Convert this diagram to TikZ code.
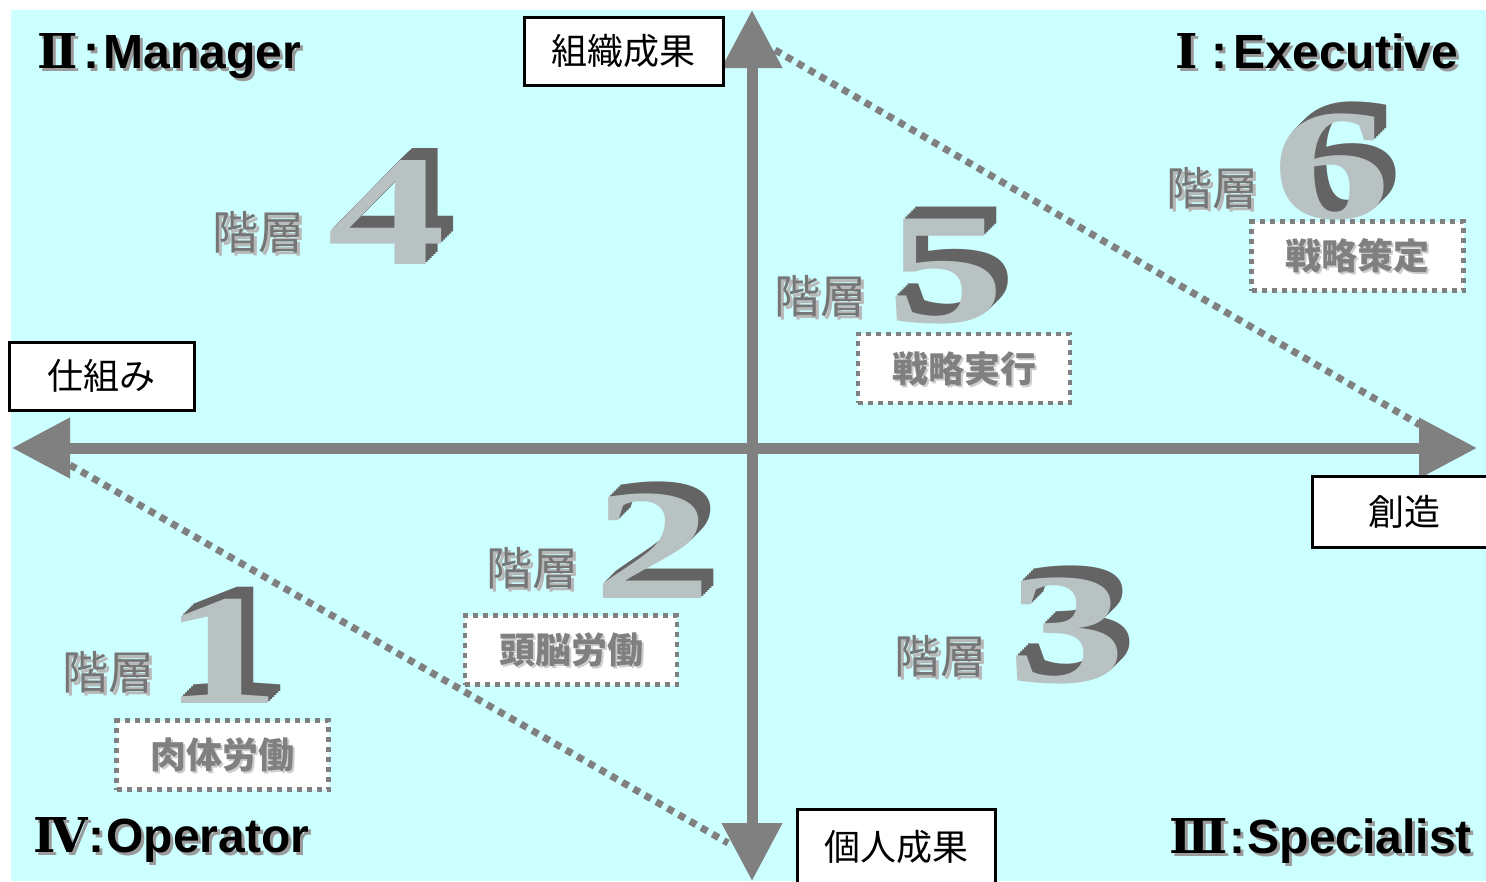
\documentclass[tikz,border=0pt]{standalone}
\usepackage{fontspec}
\setmainfont{Liberation Sans}
\newfontfamily\jp{Noto Sans CJK JP}
\newfontfamily\digf{Liberation Serif}
\newfontfamily\romf{DejaVu Serif}
\usetikzlibrary{arrows.meta}
\definecolor{bgc}{HTML}{CCFFFF}
\definecolor{axc}{HTML}{808080}
\definecolor{dkg}{HTML}{767676}
\definecolor{facec}{HTML}{B9C2C2}
\definecolor{shd}{HTML}{B8B8B8}
\definecolor{qshd}{HTML}{9A9A9A}
\newcommand{\digitart}[4]{%
  \foreach \k in {12,10,...,2}{%
    \node[digstyle, text=dkg!85!black] (#1s\k) at ([shift={(\k,-\k)}]#2,#3) {\scalebox{1.5}[1]{#4}};}
  \node[digstyle, text=facec] (#1) at (#2,#3) {\scalebox{1.5}[1]{#4}};}
\newcommand{\rn}[1]{{\romf\bfseries #1}}
\begin{document}
\begin{tikzpicture}[x=1pt,y=-1pt,
  axisline/.style={line width=11pt, draw=axc,
    {Triangle[length=58pt,width=58pt]}-{Triangle[length=58pt,width=58pt]}},
  dotline/.style={line width=7pt, draw=axc, dash pattern=on 7pt off 6pt},
  labelbox/.style={draw=black, line width=3pt, fill=white, inner sep=0pt,
    font=\jp\fontsize{36}{36}\selectfont},
  taskbox/.style={draw=axc, line width=4.5pt, dash pattern=on 5pt off 5pt,
    fill=white, minimum width=212pt, minimum height=69pt, inner sep=0pt},
  tasktxt/.style={font=\jp\bfseries\fontsize{36}{36}\selectfont, text=axc, inner sep=0pt},
  taskshd/.style={font=\jp\bfseries\fontsize{36}{36}\selectfont, text=shd!70!white, inner sep=0pt},
  kaiso/.style={font=\jp\fontsize{46}{46}\selectfont, text=dkg, inner sep=0pt},
  kaisoshd/.style={font=\jp\fontsize{46}{46}\selectfont, text=shd, inner sep=0pt},
  quad/.style={font=\bfseries\fontsize{48}{48}\selectfont, text=black, inner sep=0pt},
  quadshd/.style={font=\bfseries\fontsize{48}{48}\selectfont, text=qshd, inner sep=0pt},
  digstyle/.style={font=\digf\bfseries\fontsize{158}{158}\selectfont, inner sep=0pt}
]
\useasboundingbox (0,0) rectangle (1486,881);
\fill[bgc] (11,10) rectangle (1486,881);

% coordinates of the axes
\coordinate (top) at (752,10);
\coordinate (bot) at (752,881);
\coordinate (lft) at (12,448);
\coordinate (rgt) at (1477,448);
\coordinate (u1) at (775,50);
\coordinate (u2) at (1420,425);
\coordinate (l1) at (70,465);
\coordinate (l2) at (728,843);

% dotted diagonals
\draw[dotline] (u1) -- (u2);
\draw[dotline] (l1) -- (l2);

% axes
\draw[axisline] (bot) -- (top);
\draw[axisline] (lft) -- (rgt);

% axis label boxes
\node[labelbox, minimum width=199pt, minimum height=68pt] (org) at (623.5,51) {組織成果};
\node[labelbox, minimum width=185pt, minimum height=68pt] (shikumi) at (101.5,376) {仕組み};
\node[labelbox, minimum width=184pt, minimum height=71pt] (sozo) at (1404,511.5) {創造};
\node[labelbox, minimum width=198pt, minimum height=76pt] (kojin) at (896,847) {個人成果};

% task boxes
\node[taskbox] (t6) at (1357.5,256) {};
\node[taskbox] (t5) at (964,368.5) {};
\node[taskbox] (t2) at (571,650) {};
\node[taskbox] (t1) at (222.5,755) {};
\node[taskshd] (t6s) at ([shift={(2,2)}]t6.center) {戦略策定};
\node[tasktxt] (t6t) at (t6.center) {戦略策定};
\node[taskshd] (t5s) at ([shift={(2,2)}]t5.center) {戦略実行};
\node[tasktxt] (t5t) at (t5.center) {戦略実行};
\node[taskshd] (t2s) at ([shift={(2,2)}]t2.center) {頭脳労働};
\node[tasktxt] (t2t) at (t2.center) {頭脳労働};
\node[taskshd] (t1s) at ([shift={(2,2)}]t1.center) {肉体労働};
\node[tasktxt] (t1t) at (t1.center) {肉体労働};

% 階層 labels
\node[kaisoshd] (k4s) at (261,235) {階層};
\node[kaiso] (k4) at (258,232) {階層};
\node[kaisoshd] (k1s) at (111,675) {階層};
\node[kaiso] (k1) at (108,672) {階層};
\node[kaisoshd] (k6s) at (1215,191) {階層};
\node[kaiso] (k6) at (1212,188) {階層};
\node[kaisoshd] (k5s) at (823,299) {階層};
\node[kaiso] (k5) at (820,296) {階層};
\node[kaisoshd] (k2s) at (535,571) {階層};
\node[kaiso] (k2) at (532,568) {階層};
\node[kaisoshd] (k3s) at (943,659) {階層};
\node[kaiso] (k3) at (940,656) {階層};

% big digits
\digitart{d1}{222}{651}{1}
\digitart{d4}{386.5}{212.5}{4}
\digitart{d5}{945.5}{272}{5}
\digitart{d6}{1331.5}{167}{6}
\digitart{d2}{652.5}{546}{2}
\digitart{d3}{1066.5}{631}{3}

% quadrant labels
\node[quadshd, anchor=base west] (q2s) at (40,71) {\rn{Ⅱ}\hspace{6pt}:\hspace{4pt}Manager};
\node[quad, anchor=base west] (q2) at (37,68) {\rn{Ⅱ}\hspace{6pt}:\hspace{4pt}Manager};
\node[quadshd, anchor=base east] (q1s) at (1461,71) {\rn{Ⅰ}\hspace{14pt}:\hspace{6pt}Executive};
\node[quad, anchor=base east] (q1) at (1458,68) {\rn{Ⅰ}\hspace{14pt}:\hspace{6pt}Executive};
\node[quadshd, anchor=base west] (q4s) at (36,855) {\rn{Ⅳ}\hspace{1pt}:\hspace{2pt}Operator};
\node[quad, anchor=base west] (q4) at (33,852) {\rn{Ⅳ}\hspace{1pt}:\hspace{2pt}Operator};
\node[quadshd, anchor=base east] (q3s) at (1475,856) {\rn{Ⅲ}\hspace{2pt}:\hspace{2pt}Specialist};
\node[quad, anchor=base east] (q3) at (1472,853) {\rn{Ⅲ}\hspace{2pt}:\hspace{2pt}Specialist};
\end{tikzpicture}
\end{document}
